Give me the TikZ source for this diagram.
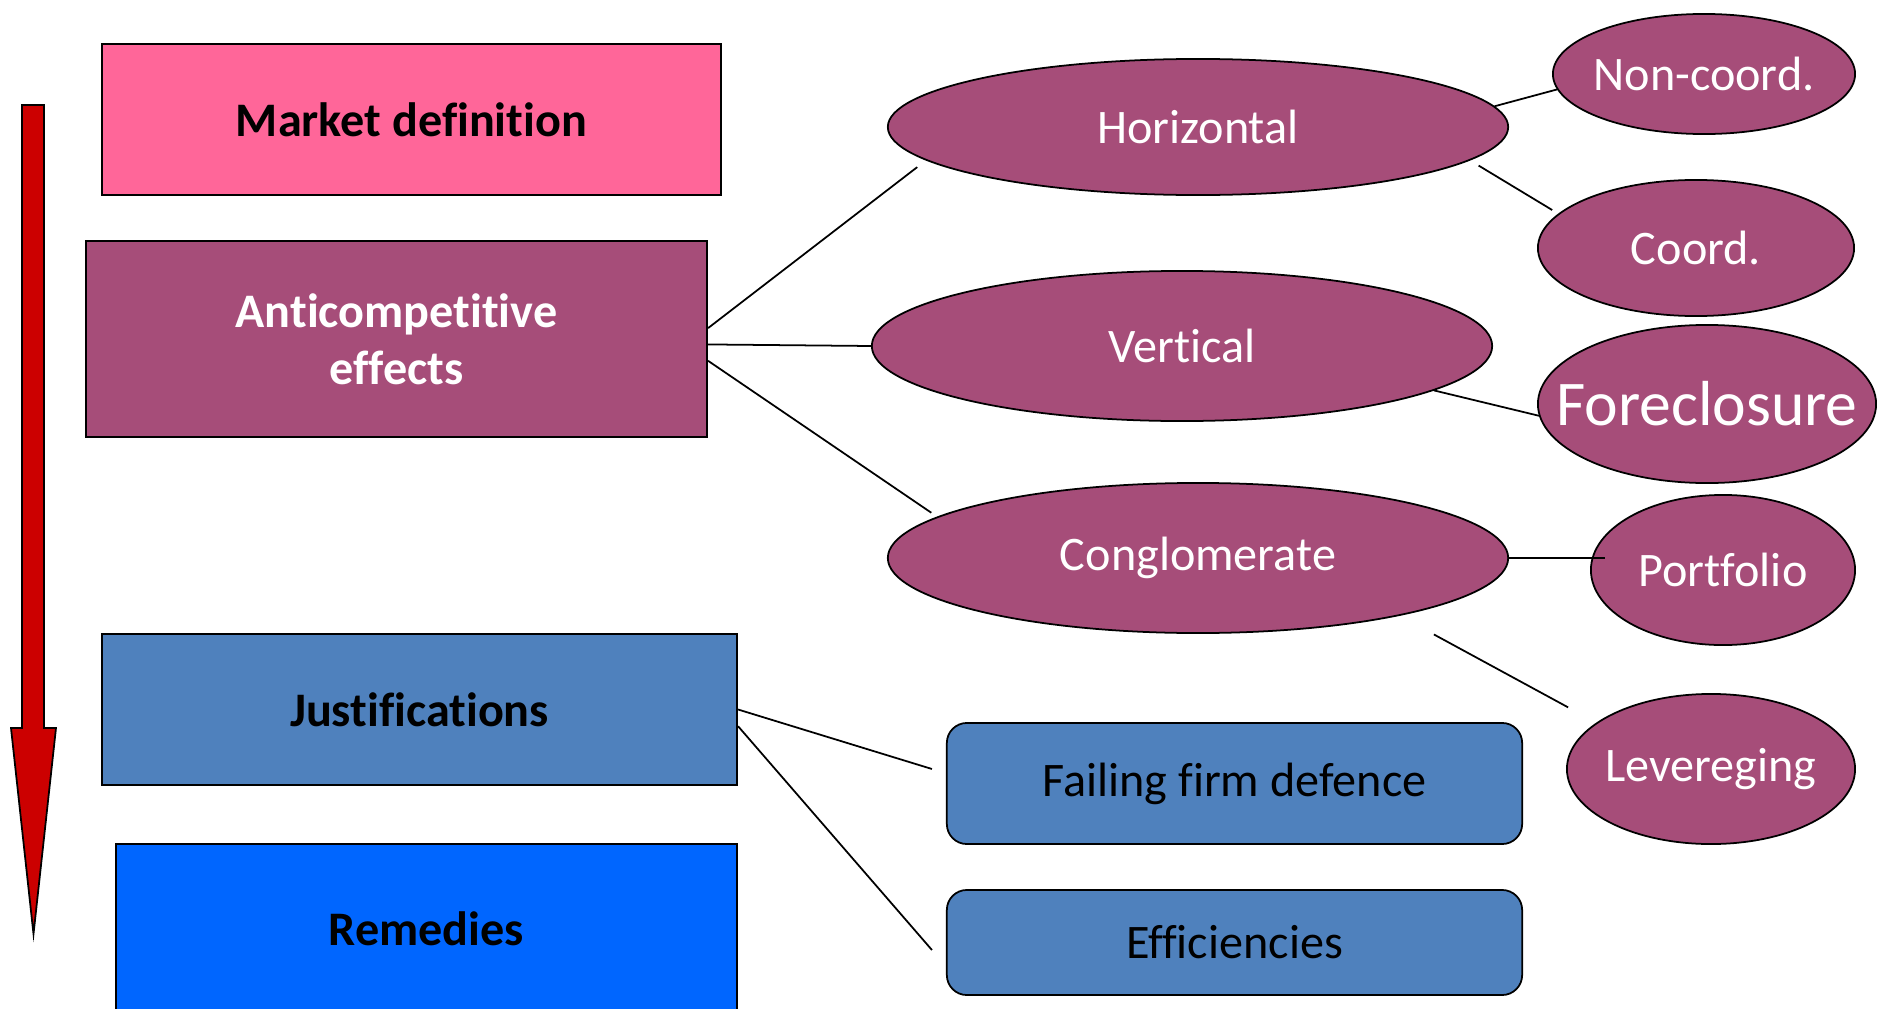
\documentclass[tikz,border=0pt]{standalone}
\usepackage{fontspec}
\setmainfont{Carlito}[Ligatures=NoCommon]
\usepackage{xcolor}
\usetikzlibrary{positioning, shapes.geometric}

\definecolor{mktpink}{HTML}{FF6699}
\definecolor{berry}{HTML}{A64D79}
\definecolor{justblue}{HTML}{4F81BD}
\definecolor{remblue}{HTML}{0066FF}
\definecolor{flowred}{HTML}{CC0000}

\begin{document}
\begin{tikzpicture}[
    x=0.01cm, y=-0.01cm,
    box/.style={draw, line width=0.5pt, inner sep=0pt, align=center,
                font=\fontsize{13.7}{16.2}\selectfont\bfseries},
    mktbox/.style={box, fill=mktpink, minimum width=6.19cm, minimum height=1.51cm},
    antibox/.style={box, fill=berry, text=white, minimum width=6.21cm, minimum height=1.96cm},
    justbox/.style={box, fill=justblue, minimum width=6.35cm, minimum height=1.51cm},
    rembox/.style={box, fill=remblue, minimum width=6.21cm, minimum height=1.70cm},
    oval/.style={ellipse, draw, line width=0.5pt, fill=berry, text=white,
                 inner xsep=-0.6cm, inner ysep=-0.3cm,
                 font=\fontsize{13.7}{16}\selectfont},
    optbox/.style={draw, rounded corners=0.2cm, fill=justblue, line width=0.5pt,
                   minimum width=5.75cm, inner sep=0pt, font=\fontsize{13.7}{16}\selectfont},
    link/.style={line width=0.5pt},
]

\clip (0,0) rectangle (1878,1009);

%% ── Flow arrow ──────────────────────────────────────────────────────────
\draw[fill=flowred, line width=0.5pt]
    (22,105) -- (44,105) -- (44,728) -- (56,728) -- (33.5,934)
    -- (11,728) -- (22,728) -- cycle;

%% ── Stages (left column) ────────────────────────────────────────────────
\node[mktbox]  (mkt)  at (411.5, 119.5) {Market definition};
\node[antibox] (anti) at (396.5, 339)   {Anticompetitive\\effects};
\node[justbox] (just) at (419.5, 709.5) {Justifications};
\node[rembox]  (rem)  at (426.5, 929)   {Remedies};

%% ── Kinds of merger ─────────────────────────────────────────────────────
\node[oval, minimum width=6.20cm, minimum height=1.36cm] (horiz) at (1198, 127) {Horizontal};
\node[oval, minimum width=6.20cm, minimum height=1.50cm] (vert)  at (1182, 346) {Vertical};
\node[oval, minimum width=6.20cm, minimum height=1.50cm] (cong)  at (1198, 558) {Conglomerate};

\draw[link, shorten >=0.11cm] (anti.2)  -- (horiz.187);
\draw[link] (anti.-1) -- (vert.west);
\draw[link, shorten >=0.07cm] (anti.-4) -- (cong.171);

%% ── Theories of harm ────────────────────────────────────────────────────
\node[oval, minimum width=3.02cm, minimum height=1.20cm] (noncoord) at (1704, 74)  {Non-coord.};
\node[oval, minimum width=3.16cm, minimum height=1.36cm] (coord)    at (1696, 248) {Coord.};
\node[oval, minimum width=3.38cm, minimum height=1.58cm, inner xsep=-1cm,
      font=\fontsize{18.1}{20}\selectfont]                (fore)     at (1707, 404) {Foreclosure};
\node[oval, minimum width=2.64cm, minimum height=1.50cm] (port)     at (1723, 570) {Portfolio};
\node[oval, minimum width=2.88cm, minimum height=1.50cm] (lev)      at (1711, 769) {Levereging};

\draw[link] (horiz.4.5) -- (noncoord.186);
\draw[link, shorten <=0.1cm, shorten >=0.07cm] (horiz.-7) -- (coord.166);
\draw[link] (vert.-10) -- (fore.184);
\draw[link, shorten >=-0.15cm] (cong.east) -- (cong.east -| port.west);
\draw[link, shorten <=0.39cm, shorten >=0.32cm] (cong.-16) -- (lev.158);

%% ── Defences ────────────────────────────────────────────────────────────
\node[optbox, minimum height=1.21cm] (fail) at (1234.5, 783.5) {Failing firm defence};
\node[optbox, minimum height=1.05cm] (eff)  at (1234.5, 942.5) {Efficiencies};

\draw[link] (just.east) -- ([xshift=-0.14cm, yshift=0.145cm]fail.west);
\draw[link] (just.-3)   -- ([xshift=-0.14cm, yshift=-0.075cm]eff.west);

\end{tikzpicture}
\end{document}
